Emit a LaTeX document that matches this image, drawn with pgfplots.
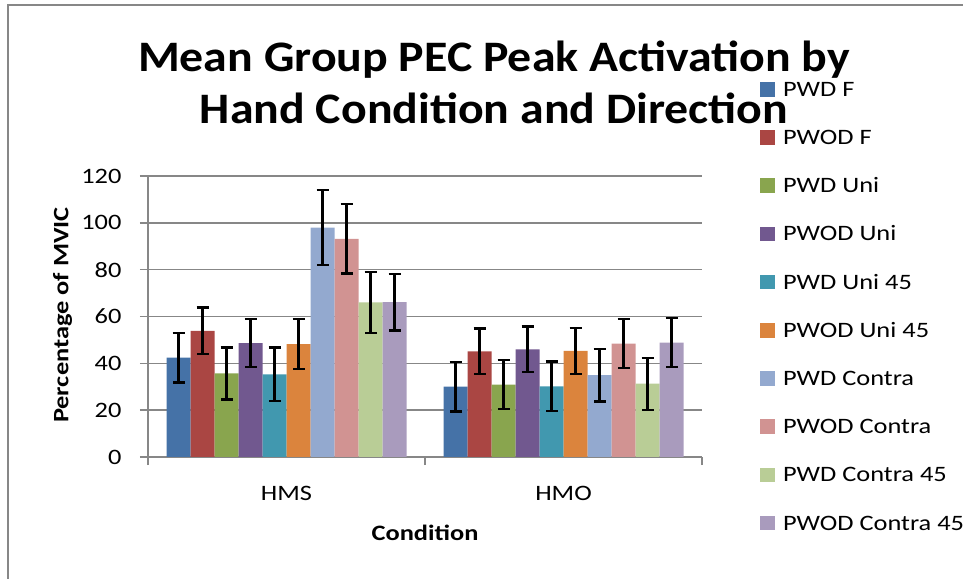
\documentclass[border=0pt]{standalone}
\usepackage{fontspec}
\setmainfont{Carlito}[FakeStretch=1.2]
\newfontfamily\titlefont{Carlito}[FakeStretch=1.1]
\usepackage{pgfplots}
\pgfplotsset{compat=1.18}
\definecolor{c1}{HTML}{4572A7}
\definecolor{c2}{HTML}{AA4643}
\definecolor{c3}{HTML}{89A54E}
\definecolor{c4}{HTML}{71588F}
\definecolor{c5}{HTML}{4198AF}
\definecolor{c6}{HTML}{DB843D}
\definecolor{c7}{HTML}{93A9CF}
\definecolor{c8}{HTML}{D19392}
\definecolor{c9}{HTML}{B9CD96}
\definecolor{c10}{HTML}{A99BBD}
\definecolor{gridgray}{HTML}{878787}
\begin{document}
\begin{tikzpicture}[x=1pt,y=1pt]
\useasboundingbox (0,0) rectangle (963,578);
\draw[gridgray, line width=2pt] (8,-10) -- (8,573) -- (980,573);
\begin{axis}[
  at={(148pt,121pt)}, anchor=south west,
  scale only axis, width=554pt, height=281pt,
  clip=false,
  ybar=0pt, bar width=24pt,
  xmin=-0.5, xmax=1.5, ymin=0, ymax=120,
  enlargelimits=false,
  axis lines*=left,
  axis line style={gridgray, line width=1.6pt},
  tick align=outside,
  major tick length=8pt,
  every tick/.style={gridgray, line width=1.6pt},
  ytick={0,20,...,120},
  xtick={-0.5,0.5,1.5}, xticklabels={},
  extra x ticks={0,1}, extra x tick labels={HMS,HMO},
  extra x tick style={major tick length=0pt, xticklabel style={anchor=base, yshift=-43pt}},
  ymajorgrids, major grid style={gridgray, line width=1.6pt},
  /pgf/number format/assume math mode=true,
  ticklabel style={font=\fontsize{22}{26}\selectfont},
  yticklabel style={anchor=east, inner sep=0pt, xshift=-18.3pt},
  ylabel={Percentage of MVIC},
  ylabel style={at={(axis description cs:-0.1439,0.5053)}, anchor=base, font=\fontsize{22}{26}\selectfont\bfseries},
  xlabel={Condition},
  xlabel style={at={(axis description cs:0.5,-0.2954)}, anchor=base, font=\fontsize{22}{26}\selectfont\bfseries},
  legend style={at={(axis description cs:1.1047,1.3477)}, anchor=north west, draw=none, fill=none,
    inner sep=0pt, outer sep=0pt, row sep=26.2pt, column sep=8pt,
    font=\fontsize{22}{26}\selectfont,
    nodes={inner sep=0pt, text height=18pt, text depth=4pt}},
  legend cell align=left,
  legend image code/.code={\fill[#1] (0pt,-7.25pt) rectangle (15pt,7.25pt);},
  error bars/y dir=both, error bars/y explicit,
  error bars/error bar style={black, line width=2.3pt},
  error bars/error mark options={rotate=90, black, line width=2.3pt, mark size=6pt},
]
\addplot[fill=c1, draw=none] coordinates {(0,42.4) +- (0,10.6) (1,30.0) +- (0,10.55)};
\addplot[fill=c2, draw=none] coordinates {(0,53.9) +- (0,9.95) (1,45.1) +- (0,9.75)};
\addplot[fill=c3, draw=none] coordinates {(0,35.7) +- (0,11.1) (1,30.9) +- (0,10.45)};
\addplot[fill=c4, draw=none] coordinates {(0,48.6) +- (0,10.3) (1,46.0) +- (0,9.75)};
\addplot[fill=c5, draw=none] coordinates {(0,35.3) +- (0,11.4) (1,30.2) +- (0,10.55)};
\addplot[fill=c6, draw=none] coordinates {(0,48.2) +- (0,10.65) (1,45.3) +- (0,9.75)};
\addplot[fill=c7, draw=none] coordinates {(0,97.9) +- (0,16.0) (1,35.0) +- (0,11.25)};
\addplot[fill=c8, draw=none] coordinates {(0,93.2) +- (0,14.8) (1,48.4) +- (0,10.5)};
\addplot[fill=c9, draw=none] coordinates {(0,66.0) +- (0,13.1) (1,31.3) +- (0,11.1)};
\addplot[fill=c10, draw=none] coordinates {(0,66.1) +- (0,12.1) (1,48.8) +- (0,10.45)};
\legend{PWD F, PWOD F, PWD Uni, PWOD Uni, PWD Uni 45, PWOD Uni 45, PWD Contra, PWOD Contra, PWD Contra 45, PWOD Contra 45}
\node[anchor=base, font=\titlefont\fontsize{43.5}{50}\selectfont\bfseries] at (axis description cs:0.6245,1.3719) {Mean Group PEC Peak Activation by};
\node[anchor=base, font=\titlefont\fontsize{43.5}{50}\selectfont\bfseries] at (axis description cs:0.6245,1.1875) {Hand Condition and Direction};
\end{axis}
\end{tikzpicture}
\end{document}
